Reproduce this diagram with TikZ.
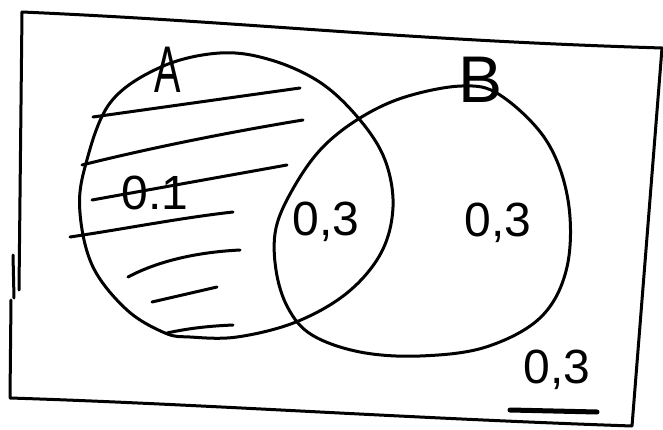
\documentclass[tikz,border=0pt]{standalone}
\usepackage{fontspec}
\setmainfont{Liberation Sans}
\begin{document}
\begin{tikzpicture}[x=1pt,y=-1pt,
  pen/.style={line width=3pt, line cap=round, line join=round},
  lbl/.style={inner sep=0pt, font=\fontsize{48}{50}\selectfont},
  setlbl/.style={inner sep=0pt, font=\fontsize{66}{70}\selectfont}]
\useasboundingbox (0,0) rectangle (663,430);
% frame
\draw[pen] (19,290) -- (22,12) .. controls (250,22) and (400,40) .. (662,48)
  -- (632,426) .. controls (400,418) and (200,404) .. (10,398) -- (11,300);
\draw[pen] (13,255) -- (14,298);
% circle A
\draw[pen] plot[smooth cycle, tension=0.6] coordinates {
  (110,103) (161,67) (220,53) (271,60) (321,83) (360,120) (385,160) (393,207)
  (381,253) (347,293) (296,322) (237,337) (190,337) (165,333) (127,310)
  (93,267) (80,213) (85,167)};
% circle B
\draw[pen] plot[smooth cycle, tension=0.6] coordinates {
  (360,118) (322,148) (294,187) (276,228) (276,270) (288,308) (312,335)
  (360,352) (420,356) (486,347) (541,317) (567,267) (568,200) (546,140)
  (500,95) (462,86) (405,97)};
% hatching in A
\draw[pen] (93,117) -- (300,88);
\draw[pen] (82,165) .. controls (150,148) and (230,132) .. (303,120);
\draw[pen] (92,200) -- (287,165);
\draw[pen] (70,237) .. controls (130,228) and (180,218) .. (233,212);
\draw[pen] (128,277) .. controls (160,260) and (200,252) .. (240,250);
\draw[pen] (152,302) -- (217,287);
\draw[pen] (167,333) .. controls (190,328) and (210,326) .. (233,325);
% labels
\node[setlbl, xscale=0.6] (A) at (168,70) {A};
\node[setlbl] (B) at (481,80) {B};
\node[lbl] (pA) at (155,193) {0.1};
\node[lbl] (pAB) at (326,222) {0,3};
\node[lbl] (pB) at (498,223) {0,3};
\node[lbl] (pN) at (557,370) {0,3};
\draw[line width=5pt, line cap=round] (510,410) -- (597,412);
\end{tikzpicture}
\end{document}
